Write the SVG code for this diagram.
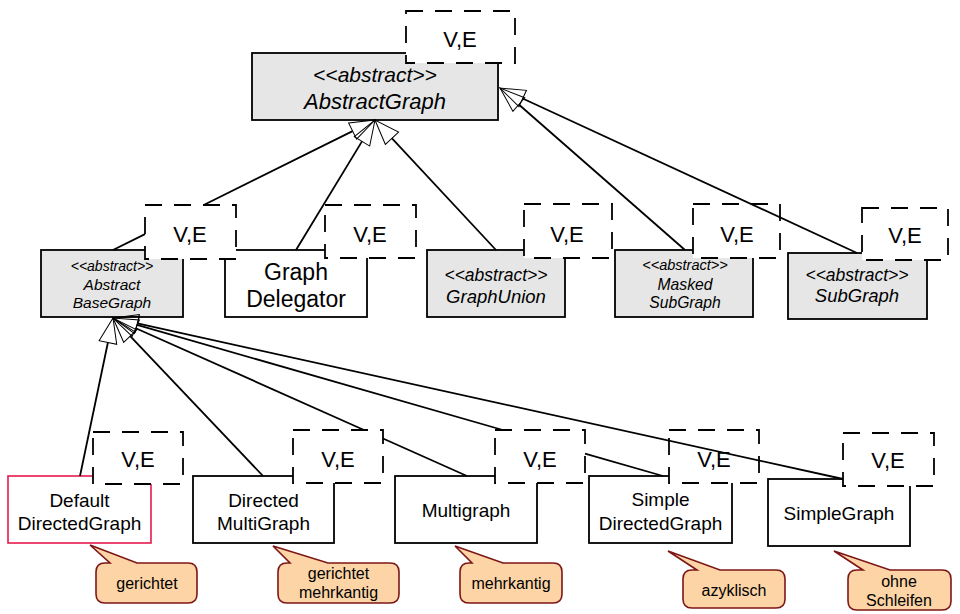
<svg xmlns="http://www.w3.org/2000/svg" width="960" height="614" viewBox="0 0 960 614">
<style>
.box{stroke:#000;stroke-width:1.8;}
.abs{fill:#e6e6e6;}
.plain{fill:#fff;}
.red{fill:#fff;stroke:#e8194e;stroke-width:1.6;}
.tpl{fill:#fff;stroke:#000;stroke-width:1.8;stroke-dasharray:17,12;}
text{font-family:"Liberation Sans",Arial,sans-serif;fill:#000;text-anchor:middle;}
.i{font-style:italic;}
.ve{font-size:22px;}
.note{fill:#fdd4a6;stroke:#7d1616;stroke-width:1.6;}
.nt{font-size:16px;}
.con{fill:none;stroke:#000;stroke-width:1.8;marker-end:url(#tri);}
</style>
<defs>
<marker id="tri" markerUnits="userSpaceOnUse" markerWidth="30" markerHeight="24" refX="0" refY="0" orient="auto" overflow="visible">
<path d="M0,-9 L25,0 L0,9 Z" fill="none" stroke="#000" stroke-width="1"/>
</marker>
</defs>
<rect width="960" height="614" fill="#fff"/>

<g id="AbstractGraph">
<rect class="box abs" x="252" y="53" width="246" height="67"/>
<text class="i" x="375" y="82" font-size="21">&lt;&lt;abstract&gt;&gt;</text>
<text class="i" x="375" y="109" font-size="22">AbstractGraph</text>
<rect class="tpl" x="406" y="11" width="109" height="52"/>
<text class="ve" x="460" y="47">V,E</text>
</g>

<g id="GraphDelegator">
<rect class="box plain" x="225" y="250" width="142" height="67"/>
<text x="296" y="280" font-size="23">Graph</text>
<text x="296" y="307" font-size="23">Delegator</text>
<rect class="tpl" x="325" y="205" width="91" height="53"/>
<text class="ve" x="370" y="242">V,E</text>
</g>

<g id="AbstractBaseGraph">
<rect class="box abs" x="41" y="250" width="142" height="67"/>
<text class="i" x="112" y="271" font-size="14">&lt;&lt;abstract&gt;&gt;</text>
<text class="i" x="112" y="290" font-size="15.5">Abstract</text>
<text class="i" x="112" y="308" font-size="15.5">BaseGraph</text>
<rect class="tpl" x="145" y="205" width="91" height="54"/>
<text class="ve" x="190" y="242">V,E</text>
</g>

<g id="GraphUnion">
<rect class="box abs" x="427" y="250" width="138" height="67"/>
<text class="i" x="496" y="281" font-size="17.5">&lt;&lt;abstract&gt;&gt;</text>
<text class="i" x="496" y="303" font-size="18.5">GraphUnion</text>
<rect class="tpl" x="524" y="204" width="88" height="54"/>
<text class="ve" x="567" y="242">V,E</text>
</g>

<g id="MaskedSubGraph">
<rect class="box abs" x="615" y="250" width="138" height="67"/>
<text class="i" x="685" y="270" font-size="14.5">&lt;&lt;abstract&gt;&gt;</text>
<text class="i" x="685" y="290" font-size="15.7">Masked</text>
<text class="i" x="685" y="308" font-size="15.7">SubGraph</text>
<rect class="tpl" x="693" y="204" width="87" height="54"/>
<text class="ve" x="737" y="242">V,E</text>
</g>

<g id="SubGraph">
<rect class="box abs" x="788" y="253" width="139" height="66"/>
<text class="i" x="857" y="281" font-size="17.5">&lt;&lt;abstract&gt;&gt;</text>
<text class="i" x="857" y="302" font-size="18.5">SubGraph</text>
<rect class="tpl" x="862" y="208" width="86" height="52"/>
<text class="ve" x="905" y="243">V,E</text>
</g>

<g id="DefaultDirectedGraph">
<rect class="red" x="8" y="476" width="143" height="67"/>
<text x="79.5" y="507" font-size="19">Default</text>
<text x="79.5" y="530" font-size="19">DirectedGraph</text>
<rect class="tpl" x="93" y="432" width="90" height="52"/>
<text class="ve" x="138" y="467">V,E</text>
</g>

<g id="DirectedMultiGraph">
<rect class="box plain" x="193" y="476" width="141" height="67"/>
<text x="263.5" y="507" font-size="19">Directed</text>
<text x="263.5" y="530" font-size="19">MultiGraph</text>
<rect class="tpl" x="293" y="430" width="90" height="53"/>
<text class="ve" x="338" y="467">V,E</text>
</g>

<g id="Multigraph">
<rect class="box plain" x="395" y="476" width="142" height="67"/>
<text x="466" y="517" font-size="19">Multigraph</text>
<rect class="tpl" x="495" y="430" width="90" height="53"/>
<text class="ve" x="540" y="467">V,E</text>
</g>

<g id="SimpleDirectedGraph">
<rect class="box plain" x="589" y="476" width="143" height="67"/>
<text x="660.5" y="506" font-size="19">Simple</text>
<text x="660.5" y="530" font-size="19">DirectedGraph</text>
<rect class="tpl" x="669" y="430" width="90" height="53"/>
<text class="ve" x="714" y="467">V,E</text>
</g>

<g id="SimpleGraph">
<rect class="box plain" x="768" y="479" width="142" height="67"/>
<text x="839" y="520" font-size="19">SimpleGraph</text>
<rect class="tpl" x="843" y="433" width="91" height="53"/>
<text class="ve" x="888" y="468">V,E</text>
</g>

<g id="connectors">
<path class="con" d="M113,250 L145,234.1 M203.7,205 L352.6,131.1"/>
<path class="con" d="M296,250 L362,141.4"/>
<path class="con" d="M496,250 L392,138.3"/>
<path class="con" d="M685,250 L518.8,104.5"/>
<path class="con" d="M857,253 L522.7,98.5"/>
<path class="con" d="M80,476 L107.9,342.5"/>
<path class="con" d="M263,476 L130.2,336.1"/>
<path class="con" d="M467,476 L383,438.5 M364,430 L135.8,328.2"/>
<path class="con" d="M663,476 L585,453.6 M502.8,430 L137,324.9"/>
<path class="con" d="M843,479 L137.4,323.4"/>
</g>

<g id="note-gerichtet">
<path class="note" d="M105,563 L110,563 L90,545 L137,563 L188,563 Q197,563 197,572 L197,594 Q197,603 188,603 L105,603 Q96,603 96,594 L96,572 Q96,563 105,563 Z"/>
<text class="nt" x="147" y="589">gerichtet</text>
</g>
<g id="note-gerichtet-mehrkantig">
<path class="note" d="M287,563 L290,563 L273,546 L328,563 L390,563 Q399,563 399,572 L399,594 Q399,603 390,603 L287,603 Q278,603 278,594 L278,572 Q278,563 287,563 Z"/>
<text class="nt" x="338.5" y="579">gerichtet</text>
<text class="nt" x="338.5" y="598">mehrkantig</text>
</g>
<g id="note-mehrkantig">
<path class="note" d="M469,563 L472,563 L455,546 L503,563 L553,563 Q562,563 562,572 L562,594 Q562,603 553,603 L469,603 Q460,603 460,594 L460,572 Q460,563 469,563 Z"/>
<text class="nt" x="511" y="589">mehrkantig</text>
</g>
<g id="note-azyklisch">
<path class="note" d="M692,570 L697,570 L668,551 L720,570 L776,570 Q785,570 785,579 L785,599 Q785,608 776,608 L692,608 Q683,608 683,599 L683,579 Q683,570 692,570 Z"/>
<text class="nt" x="734" y="596">azyklisch</text>
</g>
<g id="note-ohne-schleifen">
<path class="note" d="M857,570 L863,570 L834,551 L890,570 L942,570 Q951,570 951,579 L951,601 Q951,610 942,610 L857,610 Q848,610 848,601 L848,579 Q848,570 857,570 Z"/>
<text class="nt" x="899" y="587">ohne</text>
<text class="nt" x="899" y="606">Schleifen</text>
</g>
</svg>
